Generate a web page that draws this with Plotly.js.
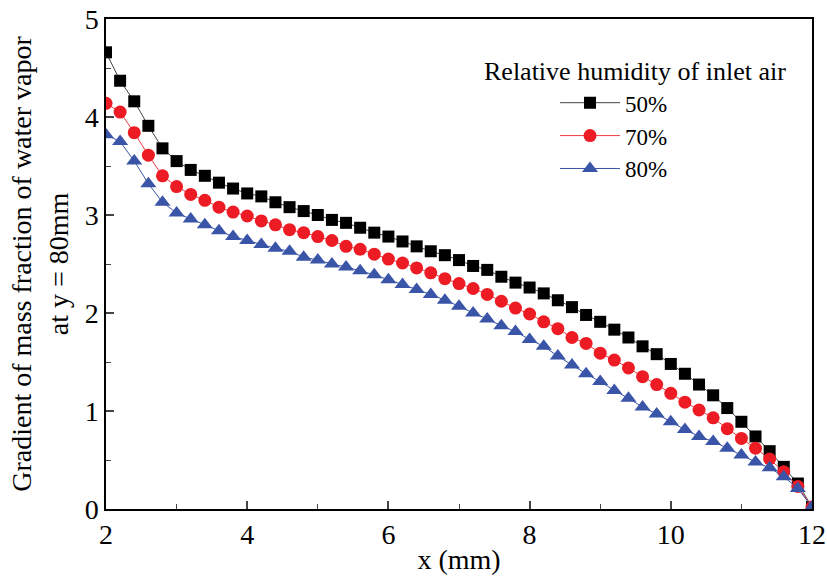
<!DOCTYPE html>
<html><head><meta charset="utf-8">
<script src="https://cdn.plot.ly/plotly-3.0.1.min.js"></script>
<style>body{margin:0;background:#fff}#c{width:827px;height:579px}</style>
</head><body><div id="c"></div>
<script>
const xVals = [2.0,2.2,2.4,2.6,2.8,3.0,3.2,3.4,3.6,3.8,4.0,4.2,4.4,4.6,4.8,5.0,5.2,5.4,5.6,5.8,6.0,6.2,6.4,6.6,6.8,7.0,7.2,7.4,7.6,7.8,8.0,8.2,8.4,8.6,8.8,9.0,9.2,9.4,9.6,9.8,10.0,10.2,10.4,10.6,10.8,11.0,11.2,11.4,11.6,11.8,12.0];
const rh50 = [4.66,4.37,4.16,3.91,3.68,3.55,3.46,3.40,3.33,3.27,3.22,3.19,3.13,3.08,3.04,3.00,2.95,2.92,2.87,2.82,2.78,2.73,2.68,2.63,2.59,2.54,2.48,2.44,2.37,2.31,2.26,2.20,2.13,2.06,1.98,1.91,1.83,1.75,1.66,1.58,1.48,1.38,1.27,1.16,1.03,0.89,0.74,0.59,0.43,0.26,0.02];
const rh70 = [4.14,4.05,3.84,3.61,3.40,3.29,3.21,3.15,3.08,3.03,2.99,2.94,2.90,2.85,2.82,2.78,2.74,2.68,2.65,2.60,2.55,2.51,2.46,2.41,2.35,2.30,2.25,2.19,2.12,2.05,1.99,1.91,1.84,1.75,1.69,1.59,1.52,1.44,1.35,1.27,1.18,1.09,1.01,0.93,0.82,0.72,0.62,0.51,0.38,0.23,0.02];
const rh80 = [3.82,3.75,3.55,3.32,3.13,3.02,2.96,2.90,2.84,2.78,2.74,2.70,2.66,2.63,2.57,2.54,2.50,2.47,2.43,2.39,2.34,2.29,2.24,2.19,2.13,2.07,2.00,1.94,1.87,1.81,1.73,1.66,1.56,1.47,1.38,1.30,1.21,1.13,1.04,0.97,0.89,0.81,0.74,0.69,0.62,0.55,0.48,0.42,0.33,0.21,0.02];
const seriesNames = ['50%','70%','80%'];
const legendTitle = 'Relative humidity of inlet air';

const font = '"Liberation Serif", "Times New Roman", serif';
const traces = [
  {x:xVals,y:rh50,name:seriesNames[0],mode:'lines+markers',
   line:{color:'#444',width:1},marker:{symbol:'square',size:12,color:'#000'}},
  {x:xVals,y:rh70,name:seriesNames[1],mode:'lines+markers',
   line:{color:'#ee3b42',width:1},marker:{symbol:'circle',size:13,color:'#ed1c24'}},
  {x:xVals,y:rh80,name:seriesNames[2],mode:'lines+markers',
   line:{color:'#3953a4',width:1},marker:{symbol:'triangle-up',size:14,color:'#3a55a8'}}
];
const layout = {
  width:827,height:579,
  margin:{l:106,r:15,t:19,b:70},
  paper_bgcolor:'#fff',plot_bgcolor:'#fff',
  font:{family:font,size:27,color:'#000'},
  showlegend:true,
  legend:{x:0.636,xanchor:'left',y:0.873,yanchor:'top',bgcolor:'rgba(0,0,0,0)',
    font:{family:font,size:23},tracegroupgap:0,itemwidth:60},
  annotations:[{text:legendTitle,xref:'paper',yref:'paper',x:0.749,y:0.892,
    xanchor:'center',yanchor:'middle',showarrow:false,font:{family:font,size:26}}],
  xaxis:{range:[2,12],tickvals:[2,4,6,8,10,12],ticks:'inside',ticklen:8,tickwidth:1.5,
    showline:true,linecolor:'#000',linewidth:1.5,mirror:true,showgrid:false,zeroline:false,
    minor:{tickvals:[3,5,7,9,11],ticks:'inside',ticklen:5,tickwidth:1.2,showgrid:false},
    tickfont:{family:font,size:28},
    title:{text:'x (mm)',font:{family:font,size:28},standoff:0}},
  yaxis:{range:[0,5],tickvals:[0,1,2,3,4,5],ticks:'inside',ticklen:8,tickwidth:1.5,
    showline:true,linecolor:'#000',linewidth:1.5,mirror:true,showgrid:false,zeroline:false,
    minor:{tickvals:[0.5,1.5,2.5,3.5,4.5],ticks:'inside',ticklen:5,tickwidth:1.2,showgrid:false},
    tickfont:{family:font,size:28},
    title:{text:'Gradient of mass fraction of water vapor<br>at y = 80mm',font:{family:font,size:28},standoff:8}}
};
Plotly.newPlot('c',traces,layout,{displayModeBar:false});
</script></body></html>
